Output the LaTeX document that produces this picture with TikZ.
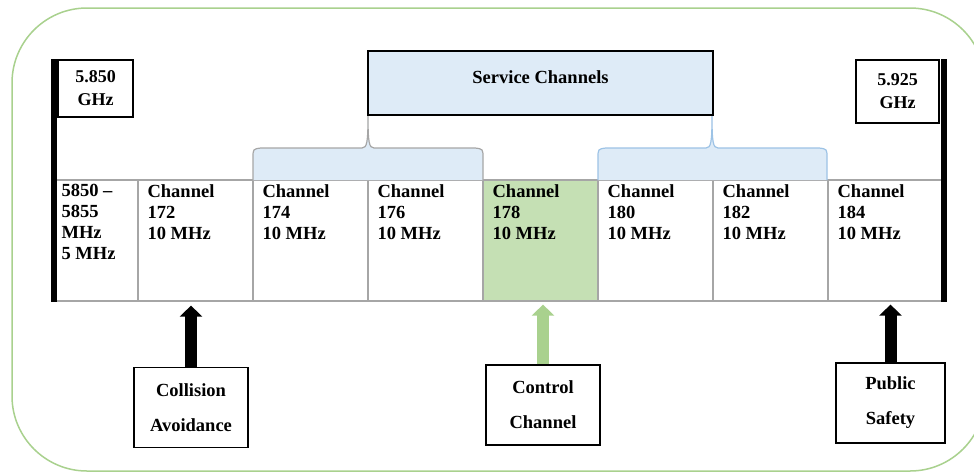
\documentclass[tikz,border=0pt]{standalone}
\usepackage{fontspec}
\setmainfont{Liberation Serif}
\usetikzlibrary{arrows.meta}
\definecolor{frame green}{HTML}{A9D18E}
\definecolor{ctrl green}{HTML}{C5E0B4}
\definecolor{sc blue}{HTML}{DEEBF7}
\definecolor{brace blue}{HTML}{9DC3E6}
\definecolor{cell gray}{HTML}{A6A6A6}
\begin{document}
\begin{tikzpicture}[x=1pt, y=-1pt,
  cell/.style={draw=cell gray, line width=1.2pt, minimum width=115, minimum height=121, inner sep=0pt},
  cell text/.style={anchor=north west, inner sep=0pt, align=left, font=\fontsize{18.5}{21}\selectfont\bfseries},
  ghz node/.style={draw, line width=1.6pt, align=center, inner sep=0pt, font=\fontsize{18}{23}\selectfont\bfseries},
  use node/.style={draw, line width=1.6pt, align=center, minimum width=114, minimum height=80, inner sep=0pt, font=\fontsize{18.5}{35}\selectfont\bfseries},
  up arrow/.style={line width=12pt, -{Triangle[width=22pt,length=11pt]}},
  bar/.style={line width=6pt}]
\useasboundingbox (0,0) rectangle (974,472);
\fill[white] (0,0) rectangle (974,472);
\begin{scope}
\clip (0,0) rectangle (974,472);
\draw[frame green, line width=1.5pt, rounded corners=75pt] (12,8) rectangle (985,471);
\end{scope}
% channel band
\node[cell, minimum width=83] (c0) at (96.5,240.5) {};
\node[cell text] at ([shift={(7pt,-5pt)}]c0.north west) {5850 –\\5855\\MHz\\5 MHz};
\foreach \ch/\cf [count=\i] in {172/white,174/white,176/white,178/ctrl green,180/white,182/white,184/white}
{
  \node[cell, fill=\cf] (c\i) at (80.5+115*\i,240.5) {};
  \node[cell text] at ([shift={(10pt,-5pt)}]c\i.north west) {Channel\\\ch\\10 MHz};
}
% braces
\filldraw[fill=sc blue, draw=cell gray, line width=1.2pt] (253,180) -- (253,158) .. controls (253,149) .. (261,148) -- (362,148) .. controls (367,148) and (368,142) .. (368,116) .. controls (368,142) and (369,148) .. (374,148) -- (475,148) .. controls (483,149) .. (483,158) -- (483,180);
\filldraw[fill=sc blue, draw=brace blue, line width=1.2pt] (598,180) -- (598,158) .. controls (598,149) .. (606,148) -- (706,148) .. controls (711,148) and (712,142) .. (712,116) .. controls (712,142) and (713,148) .. (718,148) -- (819,148) .. controls (827,149) .. (827,158) -- (827,180);
\node[draw, line width=2pt, fill=sc blue, minimum width=345, minimum height=64, label={[yshift=6pt, font=\fontsize{18.5}{21}\selectfont\bfseries]center:Service Channels}] (sc) at (540.5,83) {};
% band limits
\node[ghz node, minimum width=75, minimum height=57] (lo) at (95.5,88.5) {5.850\\GHz};
\node[ghz node, minimum width=83, minimum height=63] (hi) at (897.5,91.5) {5.925\\GHz};
\draw[bar] (c0.south west) -- (c0.west |- lo.north);
\draw[bar] (c7.south east) -- (c7.east |- hi.north);
% uses
\node[use node] (ca) at (191,407.5) {Collision\\Avoidance};
\node[use node] (cc) at (543,405) {Control\\Channel};
\node[use node, minimum width=109] (ps) at (890.5,403) {Public\\Safety};
\draw[up arrow] (ca.north) -- ([yshift=-4pt]ca.north |- c1.south);
\draw[up arrow, frame green] (cc.north) -- ([yshift=-3pt]cc.north |- c4.south);
\draw[up arrow] (ps.north) -- ([yshift=-3pt]ps.north |- c7.south);
\end{tikzpicture}
\end{document}
